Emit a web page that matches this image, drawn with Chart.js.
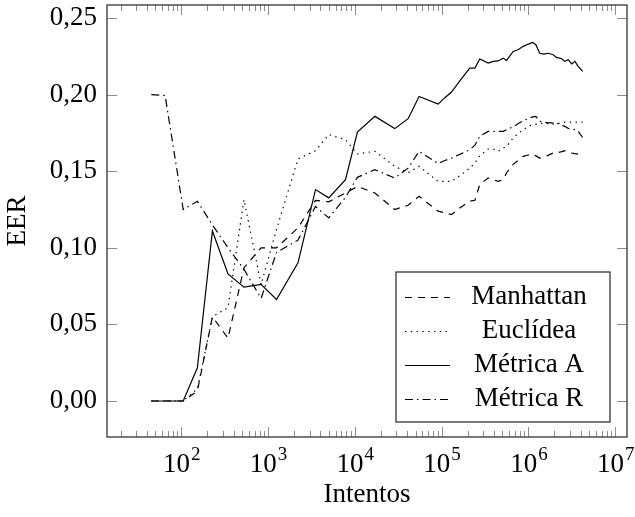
<!DOCTYPE html>
<html>
<head>
<meta charset="utf-8">
<script src="https://cdn.jsdelivr.net/npm/chart.js@4.4.1/dist/chart.umd.min.js"></script>
<style>
  html, body { margin: 0; padding: 0; background: #fff; }
</style>
</head>
<body>
<canvas id="chart" width="635" height="517"></canvas>
<script>
// x: number of attempts (log scale)
const intentos = [45, 65, 105, 153, 228, 345, 527, 830, 1250, 2210, 3520, 5000, 7800, 10700,
  17000, 28800, 41100, 55000, 91200, 109000, 130000, 162000, 211000, 242000, 275000, 344000,
  393000, 447000, 513000, 561000, 668000, 759000, 871000, 1000000, 1120000, 1220000, 1350000,
  1510000, 1700000, 1930000, 2110000, 2420000, 2630000, 2880000, 3160000, 3440000, 3750000, 4220000];

const manhattan = [0, 0, 0, 0.0065, 0.055, 0.041, 0.087, 0.10, 0.10, 0.113, 0.131, 0.13, 0.1358, 0.14,
  0.1358, 0.125, 0.1278, 0.1336, 0.1239, 0.1228, 0.1217, 0.126, 0.1304, 0.131, 0.1413, 0.1456,
  0.1445, 0.1434, 0.1445, 0.149, 0.1545, 0.157, 0.1597, 0.1606, 0.1612, 0.16, 0.1586,
  0.159, 0.1605, 0.1619, 0.162, 0.1628, 0.1634, 0.163, 0.1619, 0.1615, 0.1612, 0.1612];

const euclidea = [0, 0, 0, 0.008, 0.055, 0.061, 0.1315, 0.076, 0.112, 0.158, 0.1634, 0.1739, 0.1706, 0.1613,
  0.163, 0.1532, 0.149, 0.1532, 0.1434, 0.1434, 0.1434, 0.147, 0.152, 0.1555, 0.16, 0.1645,
  0.1645, 0.163, 0.165, 0.1663, 0.1717, 0.1745, 0.177, 0.1793, 0.1804, 0.1806, 0.181,
  0.1815, 0.181, 0.1808, 0.181, 0.1815, 0.182, 0.182, 0.182, 0.182, 0.182, 0.182];

const metricaA = [0, 0, 0, 0.0217, 0.111, 0.083, 0.0743, 0.0761, 0.0663, 0.0902, 0.138, 0.1326, 0.1445, 0.1756,
  0.1858, 0.1778, 0.1843, 0.1988, 0.1938, 0.198, 0.2017, 0.209, 0.2173, 0.2173, 0.2233, 0.2206,
  0.2217, 0.222, 0.2238, 0.2223, 0.2282, 0.2293, 0.2315, 0.233, 0.234, 0.2326, 0.227,
  0.2264, 0.227, 0.226, 0.2243, 0.2234, 0.2217, 0.2228, 0.22, 0.2217, 0.2184, 0.2152];

const metricaR = [0.2, 0.1995, 0.125, 0.1304, 0.115, 0.10, 0.086, 0.067, 0.097, 0.105, 0.127, 0.1195, 0.133, 0.146,
  0.151, 0.1456, 0.152, 0.163, 0.155, 0.157, 0.1586, 0.161, 0.164, 0.167, 0.1728, 0.176,
  0.176, 0.176, 0.176, 0.1771, 0.179, 0.181, 0.183, 0.1843, 0.1855, 0.1858, 0.1826,
  0.182, 0.1815, 0.1815, 0.1815, 0.18, 0.1793, 0.178, 0.1775, 0.1771, 0.176, 0.172];

const seriesNames = ['Manhattan', 'Euclídea', 'Métrica A', 'Métrica R'];
const xDecades = [2, 3, 4, 5, 6, 7];

const FONT = "'Liberation Serif', 'DejaVu Serif', serif";

const toPoints = (ys) => intentos.map((x, i) => ({ x, y: ys[i] }));

const lineDataset = (label, ys, dash) => ({
  label,
  data: toPoints(ys),
  borderColor: '#000',
  borderWidth: 1.2,
  borderDash: dash,
  pointRadius: 0,
  fill: false,
  tension: 0
});

// inward ticks, frame, 10^n labels and boxed legend (pgfplots look)
const pgfLook = {
  id: 'pgfLook',
  afterDraw(chart) {
    const { ctx, chartArea: a, scales: { x, y } } = chart;
    ctx.save();

    ctx.strokeStyle = '#8c8c8c';
    ctx.lineWidth = 1;
    ctx.setLineDash([]);
    ctx.beginPath();
    for (let k = 1; k <= 7; k++) {
      for (let m = 1; m <= 9; m++) {
        const v = m * Math.pow(10, k);
        if (v < x.min || v > x.max) continue;
        const px = Math.round(x.getPixelForValue(v)) + 0.5;
        const len = m === 1 ? 10 : 6;
        ctx.moveTo(px, a.bottom); ctx.lineTo(px, a.bottom - len);
        ctx.moveTo(px, a.top); ctx.lineTo(px, a.top + len);
      }
    }
    y.ticks.forEach(t => {
      const py = Math.round(y.getPixelForValue(t.value)) + 0.5;
      ctx.moveTo(a.left, py); ctx.lineTo(a.left + 10, py);
      ctx.moveTo(a.right, py); ctx.lineTo(a.right - 10, py);
    });
    ctx.stroke();

    ctx.strokeStyle = '#333';
    ctx.lineWidth = 1.3;
    ctx.strokeRect(a.left, a.top, a.right - a.left, a.bottom - a.top);

    // x tick labels 10^n
    ctx.fillStyle = '#000';
    ctx.textBaseline = 'alphabetic';
    ctx.textAlign = 'left';
    xDecades.forEach(k => {
      const px = x.getPixelForValue(Math.pow(10, k));
      ctx.font = '27px ' + FONT;
      const wBase = ctx.measureText('10').width;
      ctx.font = '19px ' + FONT;
      const wExp = ctx.measureText(String(k)).width;
      const x0 = px - (wBase + wExp) / 2;
      ctx.font = '27px ' + FONT;
      ctx.fillText('10', x0, 472);
      ctx.font = '19px ' + FONT;
      ctx.fillText(String(k), x0 + wBase + 1, 460);
    });

    // legend
    const box = { l: 396, t: 272, r: 610, b: 422 };
    ctx.fillStyle = '#fff';
    ctx.fillRect(box.l, box.t, box.r - box.l, box.b - box.t);
    ctx.strokeStyle = '#333';
    ctx.lineWidth = 1.3;
    ctx.strokeRect(box.l, box.t, box.r - box.l, box.b - box.t);
    ctx.font = '27px ' + FONT;
    ctx.textAlign = 'center';
    ctx.textBaseline = 'middle';
    chart.data.datasets.forEach((ds, i) => {
      const cy = 297 + i * 34;
      ctx.strokeStyle = '#000';
      ctx.lineWidth = ds.borderWidth;
      ctx.setLineDash(ds.borderDash || []);
      ctx.beginPath();
      ctx.moveTo(405, cy + 0.5);
      ctx.lineTo(450, cy + 0.5);
      ctx.stroke();
      ctx.setLineDash([]);
      ctx.fillStyle = '#000';
      ctx.fillText(ds.label, 529, cy);
    });

    ctx.restore();
  }
};

new Chart(document.getElementById('chart'), {
  type: 'line',
  data: {
    datasets: [
      lineDataset(seriesNames[0], manhattan, [7, 6]),
      lineDataset(seriesNames[1], euclidea, [1.4, 4.4]),
      lineDataset(seriesNames[2], metricaA, []),
      lineDataset(seriesNames[3], metricaR, [8, 4, 1.5, 4])
    ]
  },
  options: {
    responsive: false,
    animation: false,
    devicePixelRatio: 1,
    layout: { autoPadding: false, padding: { top: 5, right: 8, left: 0, bottom: 0 } },
    plugins: {
      legend: { display: false },
      tooltip: { enabled: false }
    },
    scales: {
      x: {
        type: 'logarithmic',
        min: 13.9,
        max: 1.37e7,
        grid: { display: false, drawTicks: false },
        border: { display: false },
        ticks: { display: false },
        title: {
          display: true,
          text: 'Intentos',
          color: '#000',
          font: { family: FONT, size: 27 },
          padding: { top: 0, bottom: 6 }
        },
        afterFit: (s) => {
          s.height = 80;
          s.paddingLeft = 0;
          s.paddingRight = 0;
        }
      },
      y: {
        type: 'linear',
        min: -0.0235,
        max: 0.2585,
        grid: { display: false, drawTicks: false },
        border: { display: false },
        ticks: {
          stepSize: 0.05,
          includeBounds: false,
          padding: 10,
          color: '#000',
          font: { family: FONT, size: 27 },
          callback: (v) => v.toFixed(2).replace('.', ',')
        },
        title: {
          display: true,
          text: 'EER',
          color: '#000',
          font: { family: FONT, size: 27 },
          padding: { top: 2, bottom: 0 }
        },
        afterFit: (s) => {
          s.width = 107;
          s.paddingTop = 0;
          s.paddingBottom = 0;
        }
      }
    }
  },
  plugins: [pgfLook]
});
</script>
</body>
</html>
